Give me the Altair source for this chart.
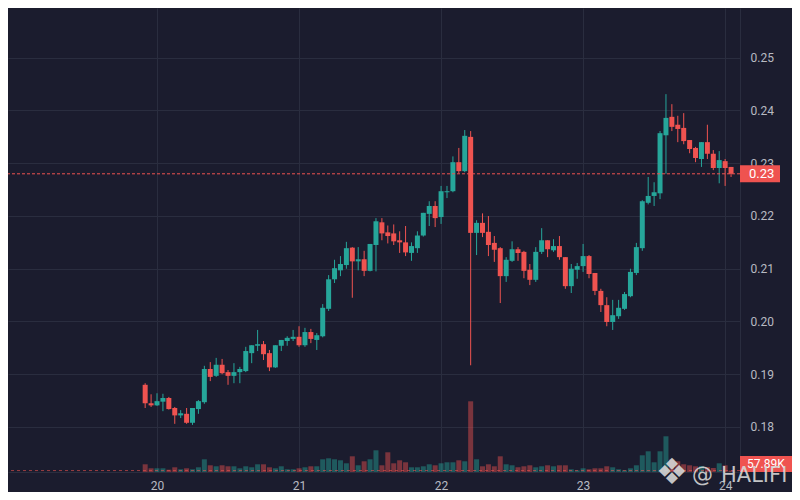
import altair as alt
import pandas as pd

# ---------------- data (hourly candles) ----------------
opens = [0.1880,0.1845,0.1841,0.1848,0.1855,0.1836,0.1822,0.1825,0.1808,0.1834,
         0.1847,0.1910,0.1897,0.1918,0.1904,0.1897,0.1904,0.1906,0.1940,0.1954,
         0.1957,0.1940,0.1913,0.1954,0.1963,0.1967,0.1971,0.1955,0.1980,0.1965,
         0.1972,0.2024,0.2080,0.2097,0.2107,0.2140,0.2114,0.2118,0.2096,0.2145,
         0.2188,0.2169,0.2167,0.2154,0.2150,0.2130,0.2139,0.2163,0.2204,0.2219,
         0.2198,0.2245,0.2247,0.2302,0.2285,0.2350,0.2168,0.2187,0.2170,0.2149,
         0.2139,0.2086,0.2115,0.2137,0.2132,0.2098,0.2079,0.2132,0.2154,0.2135,
         0.2143,0.2122,0.2067,0.2098,0.2105,0.2124,0.2092,0.2058,0.2031,0.1999,
         0.2010,0.2024,0.2048,0.2092,0.2139,0.2225,0.2238,0.2243,0.2353,0.2388,
         0.2373,0.2367,0.2344,0.2329,0.2308,0.2340,0.2318,0.2291,0.2304,0.2293]

highs = [0.1883,0.1862,0.1864,0.1863,0.1857,0.1838,0.1832,0.1836,0.1836,0.1851,
         0.1916,0.1923,0.1931,0.1929,0.1908,0.1921,0.1914,0.1952,0.1955,0.1984,
         0.1963,0.1946,0.1955,0.1965,0.1972,0.1984,0.1991,0.1988,0.1986,0.1978,
         0.2033,0.2088,0.2117,0.2124,0.2151,0.2141,0.2141,0.2134,0.2147,0.2196,
         0.2196,0.2182,0.2184,0.2171,0.2181,0.2150,0.2171,0.2206,0.2228,0.2228,
         0.2257,0.2257,0.2313,0.2329,0.2363,0.2361,0.2192,0.2205,0.2200,0.2162,
         0.2141,0.2122,0.2152,0.2141,0.2134,0.2109,0.2141,0.2177,0.2154,0.2156,
         0.2162,0.2122,0.2109,0.2111,0.2147,0.2126,0.2092,0.2062,0.2046,0.2041,
         0.2041,0.2056,0.2100,0.2149,0.2230,0.2274,0.2264,0.2361,0.2431,0.2412,
         0.2390,0.2395,0.2344,0.2331,0.2340,0.2373,0.2325,0.2323,0.2308,0.2293]

lows = [0.1836,0.1838,0.1840,0.1830,0.1833,0.1806,0.1817,0.1806,0.1804,0.1825,
        0.1844,0.1887,0.1895,0.1900,0.1880,0.1883,0.1883,0.1904,0.1921,0.1944,
        0.1927,0.1906,0.1912,0.1944,0.1954,0.1963,0.1952,0.1952,0.1959,0.1946,
        0.1970,0.2020,0.2073,0.2086,0.2100,0.2045,0.2097,0.2086,0.2095,0.2095,
        0.2154,0.2148,0.2145,0.2130,0.2124,0.2115,0.2130,0.2161,0.2181,0.2179,
        0.2185,0.2234,0.2245,0.2281,0.2283,0.1917,0.2126,0.2160,0.2124,0.2113,
        0.2035,0.2075,0.2113,0.2115,0.2082,0.2069,0.2075,0.2128,0.2122,0.2132,
        0.2117,0.2062,0.2054,0.2081,0.2094,0.2082,0.2050,0.2018,0.1991,0.1984,
        0.2005,0.2022,0.2046,0.2088,0.2134,0.2222,0.2219,0.2232,0.2280,0.2361,
        0.2340,0.2336,0.2319,0.2302,0.2293,0.2308,0.2287,0.2262,0.2257,0.2274]

closes = [0.1845,0.1841,0.1849,0.1855,0.1834,0.1822,0.1826,0.1808,0.1836,0.1849,
          0.1910,0.1895,0.1918,0.1902,0.1897,0.1904,0.1910,0.1944,0.1955,0.1957,
          0.1938,0.1913,0.1955,0.1965,0.1969,0.1971,0.1955,0.1980,0.1967,0.1974,
          0.2026,0.2080,0.2101,0.2109,0.2139,0.2114,0.2118,0.2096,0.2147,0.2190,
          0.2167,0.2162,0.2152,0.2150,0.2131,0.2143,0.2163,0.2206,0.2219,0.2196,
          0.2247,0.2247,0.2302,0.2285,0.2352,0.2168,0.2187,0.2168,0.2145,0.2136,
          0.2086,0.2117,0.2137,0.2130,0.2096,0.2079,0.2132,0.2154,0.2137,0.2143,
          0.2122,0.2067,0.2100,0.2105,0.2124,0.2090,0.2058,0.2031,0.1999,0.2012,
          0.2026,0.2052,0.2094,0.2141,0.2228,0.2238,0.2245,0.2357,0.2386,0.2369,
          0.2365,0.2342,0.2327,0.2310,0.2340,0.2318,0.2291,0.2306,0.2291,0.2280]

volumes_k = [308,148,148,148,92,188,108,148,108,188,
             508,268,228,268,228,228,148,228,188,308,
             308,188,148,228,108,108,148,188,228,228,
             508,548,508,468,348,628,268,428,508,868,
             268,788,348,468,388,188,188,228,308,268,
             348,388,388,468,428,2828,508,228,308,228,
             628,308,268,188,228,268,188,228,268,228,
             268,268,108,68,148,108,148,148,228,188,
             108,68,148,268,668,828,388,828,1428,508,
             428,308,268,228,240,200,160,348,268,57.89]

times = pd.date_range("2024-03-19 22:00", periods=len(opens), freq="h")
price_ticks = [0.18, 0.19, 0.20, 0.21, 0.22, 0.23, 0.24, 0.25]
day_ticks = [20, 21, 22, 23, 24]
last_close = closes[-1]
last_vol = volumes_k[-1]
vol_label = "57.89K"
watermark_at = "@"
watermark_name = "HALIFI"
logo_glyph = "\u2756"

# ---------------- styling ----------------
BG = "#1b1c2e"
GRID = "#2a2d3f"
LABEL = "#b8bac2"
UP = "#26a69a"
DOWN = "#ef5350"
W, H = 732, 464
PAD_R, PAD_B = 52, 20

df = pd.DataFrame({"t": times, "open": opens, "high": highs, "low": lows,
                   "close": closes, "vol": volumes_k})
df["dir"] = ["up" if c >= o else "down" for o, c in zip(opens, closes)]

ann = pd.DataFrame({"last_close": [last_close], "price_label": [f"{last_close:.2f}"],
                    "last_vol": [last_vol], "vol_label": [vol_label],
                    "at": [watermark_at], "name": [watermark_name], "logo": [logo_glyph]})

x_enc = alt.X("t:T", title=None,
              scale=alt.Scale(domain=[alt.DateTime(year=2024, month=3, date=18, hours=23, minutes=40),
                                      alt.DateTime(year=2024, month=3, date=24, hours=1, minutes=40)]),
              axis=alt.Axis(values=[alt.DateTime(year=2024, month=3, date=d) for d in day_ticks],
                            format="%d", labelFlush=False, labelOverlap=False, ticks=False,
                            labelPadding=8, grid=True, gridColor=GRID, domainColor=GRID,
                            labelColor=LABEL, labelFontSize=12, labelFont="Roboto"))

color_enc = alt.Color("dir:N", scale=alt.Scale(domain=["up", "down"], range=[UP, DOWN]), legend=None)

price_scale = alt.Scale(domain=[0.171469, 0.259431], nice=False, zero=False)
price_axis = alt.Axis(orient="right", values=price_ticks, format=".2f", ticks=False,
                      labelPadding=10, grid=True, gridColor=GRID, domainColor=GRID,
                      labelColor=LABEL, labelFontSize=12, labelFont="Roboto")

wick = alt.Chart(df).mark_rule(strokeWidth=1).encode(
    x=x_enc, y=alt.Y("low:Q", scale=price_scale, axis=price_axis, title=None),
    y2="high:Q", color=color_enc)
body = alt.Chart(df).mark_bar(size=5).encode(
    x=x_enc, y="open:Q", y2="close:Q", color=color_enc)
last_line = alt.Chart(ann).mark_rule(color=DOWN, strokeDash=[3, 2], strokeWidth=1).encode(
    y="last_close:Q")
badge = alt.Chart(ann).mark_rule(color=DOWN, strokeWidth=17, strokeCap="butt").encode(
    x=alt.value(W), x2=alt.value(W + 40), y="last_close:Q")
badge_text = alt.Chart(ann).mark_text(align="left", baseline="middle", color="#ffffff",
                                      fontSize=13, font="Roboto").encode(
    x=alt.value(W + 9), y="last_close:Q", text="price_label:N")
price_layer = alt.layer(wick, body, last_line, badge, badge_text)

vol_scale = alt.Scale(domain=[0, 18560], nice=False, zero=True)
vol_bars = alt.Chart(df).mark_bar(size=5, opacity=0.45).encode(
    x=x_enc, y=alt.Y("vol:Q", scale=vol_scale, axis=None), color=color_enc)
vol_line = alt.Chart(ann).mark_rule(color=DOWN, opacity=0.6, strokeDash=[3, 3], strokeWidth=1).encode(
    y=alt.Y("last_vol:Q", scale=vol_scale, axis=None))
vol_layer = alt.layer(vol_bars, vol_line)

vol_badge = alt.Chart(ann).mark_rule(color=DOWN, strokeWidth=16, strokeCap="butt").encode(
    x=alt.value(W), x2=alt.value(W + PAD_R), y=alt.value(456))
vol_badge_text = alt.Chart(ann).mark_text(align="left", baseline="middle", color="#ffffff",
                                          fontSize=12, font="Roboto").encode(
    x=alt.value(W + 7), y=alt.value(456), text="vol_label:N")

logo = alt.Chart(ann).mark_text(align="center", baseline="middle", color="#d6d6d6",
                                opacity=0.9, fontSize=36, font="DejaVu Sans").encode(
    x=alt.value(664), y=alt.value(465), text="logo:N")
wm_at = alt.Chart(ann).mark_text(align="left", baseline="middle", color="#d6d6d6",
                                 opacity=0.9, fontSize=21, font="DejaVu Sans").encode(
    x=alt.value(684), y=alt.value(468), text="at:N")
wm_name = alt.Chart(ann).mark_text(align="left", baseline="middle", color="#d6d6d6",
                                   opacity=0.9, fontSize=21, font="DejaVu Sans").encode(
    x=alt.value(713), y=alt.value(468), text="name:N")

chart = alt.layer(vol_layer, price_layer, vol_badge, vol_badge_text, logo, wm_at, wm_name
                  ).resolve_scale(y="independent").properties(
    width=W, height=H, background=BG,
    padding={"left": 0, "top": 0, "right": PAD_R, "bottom": PAD_B},
    autosize=alt.AutoSizeParams(type="none")
).configure_view(strokeWidth=0)

chart.save("out.html", embed_options={"renderer": "svg", "actions": False})
